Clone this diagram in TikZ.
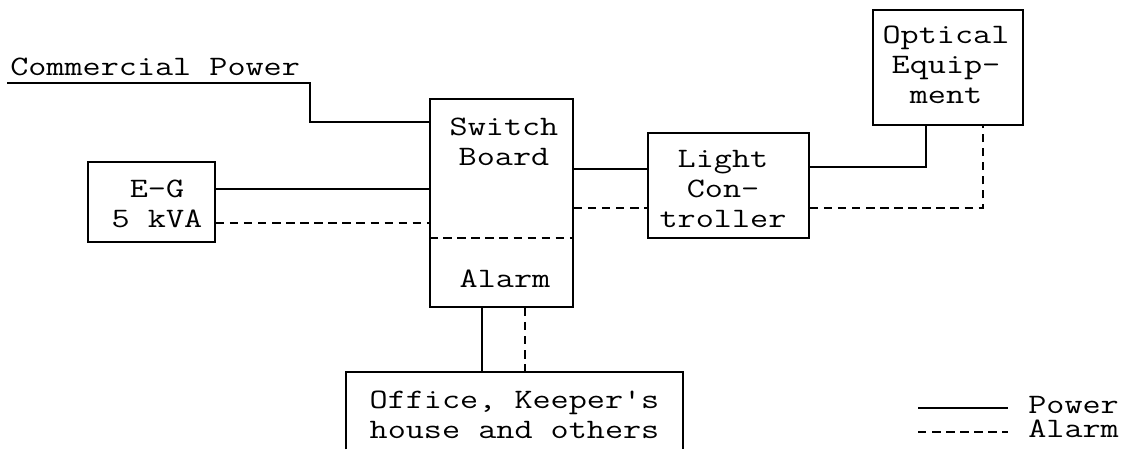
\documentclass[tikz,border=0pt]{standalone}
\usepackage{fontspec}
\newfontfamily\typefont[FakeStretch=1.25]{Latin Modern Mono}
\usetikzlibrary{calc}

\tikzset{
  lbl/.style={font=\fontsize{20}{21.3}\typefont, inner sep=0pt},
  txt/.style={lbl, align=center},
  box/.style={draw, line width=1.2pt, rectangle, inner sep=0pt},
  power/.style={line width=1.2pt},
  alarm/.style={line width=1.2pt, dash pattern=on 6pt off 4pt},
}

\begin{document}
\begin{tikzpicture}[x=0.025cm,y=-0.025cm]
  \useasboundingbox (0,0) rectangle (1131,449);
  % Boxes
  \node[box, minimum width=3.175cm, minimum height=2cm] (eg) at (151.5,202) {};
  \node[txt, anchor=base] (egtxt) at (157,227) {E-G\\5 kVA};
  \node[box, minimum width=3.575cm, minimum height=5.2cm] (sb) at (501.5,203) {};
  \node[txt, anchor=base] (sbtxt) at (504,165) {Switch\\Board};
  \node[lbl, anchor=base] (altxt) at (505,287) {Alarm};
  \node[box, minimum width=4.025cm, minimum height=2.625cm] (lc) at (728.5,185.5) {};
  \node[txt, anchor=base] (lctxt) at (723,227) {Light\\Con-\\troller};
  \node[box, minimum width=3.75cm, minimum height=2.875cm] (opt) at (948,67.5) {};
  \node[txt, anchor=base] (opttxt) at (946,103) {Optical\\Equip-\\ment};
  \node[minimum width=8.425cm, minimum height=1.925cm, inner sep=0pt] (office) at (514.5,410.5) {};
  \node[txt, anchor=base] (offtxt) at (514.5,438) {Office, Keeper's\\house and others};
  \draw[power] (office.south west) -- (office.north west) -- (office.north east) -- (office.south east);
  \draw[alarm] (sb.west |- 0,238) -- (sb.east |- 0,238);
  % Commercial power feed
  \node[lbl, anchor=base west] (cp) at (10,75) {Commercial Power};
  \coordinate (cp0) at (7,83);
  \draw[power] (cp0) -- ++(303,0) |- (sb.west |- 0,122);
  % Connections
  \draw[power] (eg.east |- 0,189) -- (sb.west |- 0,189);
  \draw[alarm] (eg.east |- 0,223) -- (sb.west |- 0,223);
  \draw[power] (sb.east |- 0,169) -- (lc.west |- 0,169);
  \draw[alarm] (sb.east |- 0,208) -- (lc.west |- 0,208);
  \draw[power] (lc.east |- 0,167) -| (opt.south -| 926,0);
  \draw[alarm] (lc.east |- 0,208) -| (opt.south -| 983,0);
  \draw[power] (sb.south -| 482,0) -- (office.north -| 482,0);
  \draw[alarm] (sb.south -| 525,0) -- (office.north -| 525,0);
  % Legend
  \coordinate (pw0) at (918,408);
  \coordinate (pw1) at (1008,408);
  \coordinate (al0) at (918,432);
  \coordinate (al1) at (1008,432);
  \draw[power] (pw0) -- (pw1);
  \draw[alarm] (al0) -- (al1);
  \node[lbl, anchor=base west] (pwtxt) at (1028,413) {Power};
  \node[lbl, anchor=base west] (altxt2) at (1028,437.5) {Alarm};
\end{tikzpicture}
\end{document}
